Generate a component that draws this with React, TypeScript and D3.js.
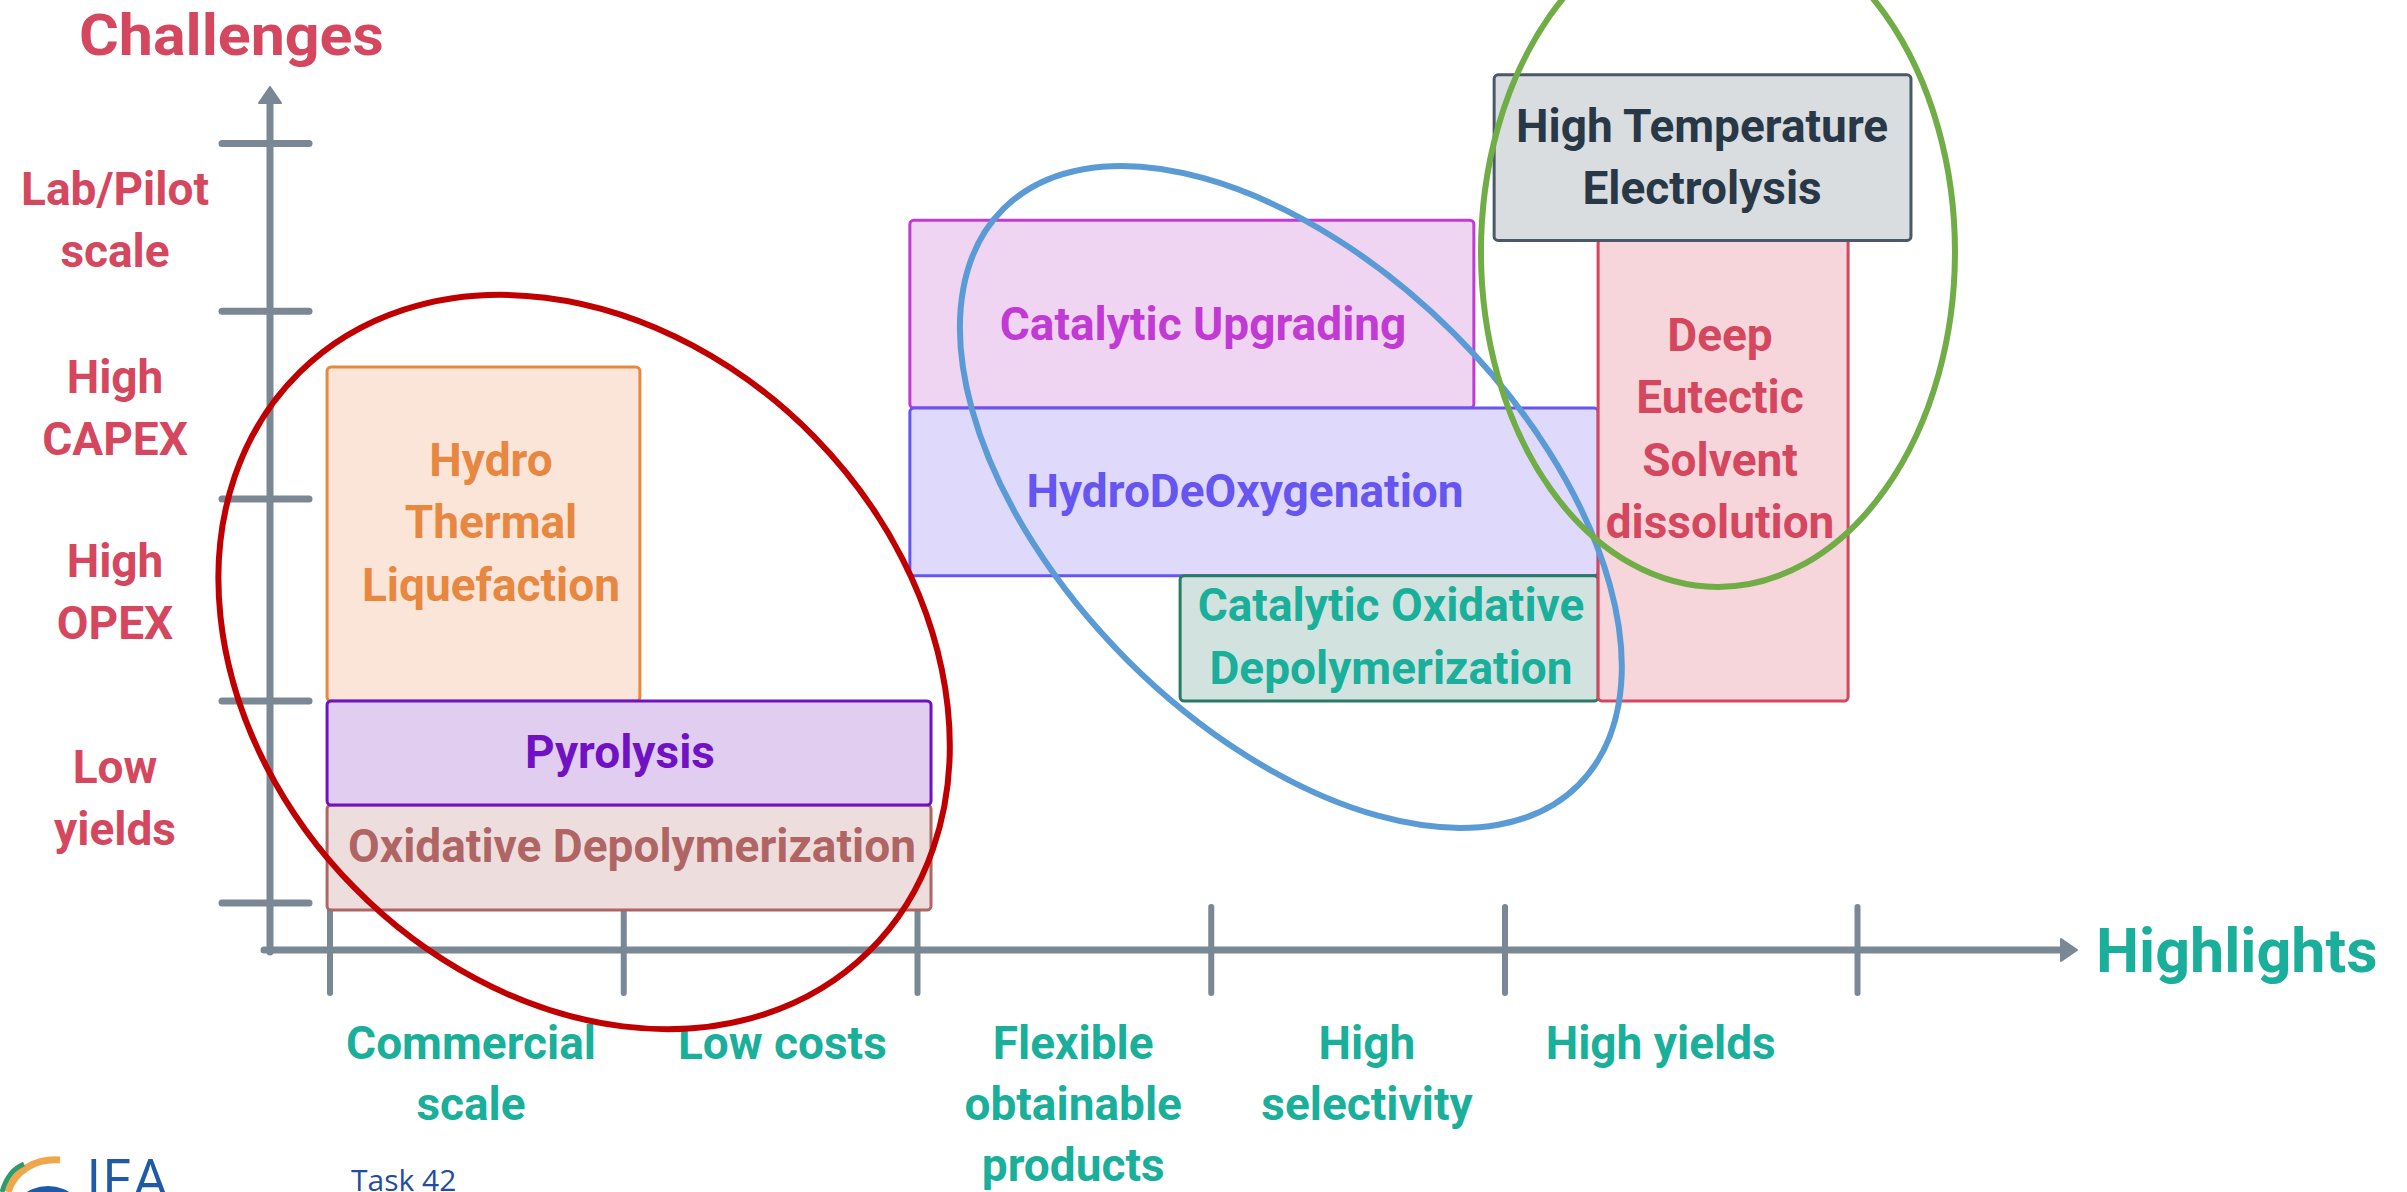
import React, { useEffect } from "react";
import * as d3 from "d3";

const W = 2407;
const H = 1192;

// ---- data ----
const highlightLabels = [["Commercial", "scale"], ["Low costs"], ["Flexible", "obtainable", "products"], ["High", "selectivity"], ["High yields"]];
const highlightPos = [0.48, 1.54, 2.53, 3.53, 4.53];
const xTickValues = [0, 1, 2, 3, 4, 5.2];

const challengeLabels = [["Lab/Pilot", "scale"], ["High", "CAPEX"], ["High", "OPEX"], ["Low", "yields"]];
const challengePos = [3.38, 2.45, 1.54, 0.52];
const yTickValues = [0, 1, 2, 2.93, 3.76];

const processLines = [
  ["Hydro", "Thermal", "Liquefaction"],
  ["Oxidative Depolymerization"],
  ["Pyrolysis"],
  ["Catalytic Upgrading"],
  ["HydroDeOxygenation"],
  ["Catalytic Oxidative", "Depolymerization"],
  ["Deep", "Eutectic", "Solvent", "dissolution"],
  ["High Temperature", "Electrolysis"],
];
const processX0 = [-0.01, -0.01, -0.01, 1.974, 1.974, 2.894, 4.317, 3.963];
const processX1 = [1.055, 2.046, 2.046, 3.894, 4.317, 4.317, 5.168, 5.382];
const processY0 = [1.0, -0.035, 0.485, 2.45, 1.62, 1.0, 1.0, 3.28];
const processY1 = [2.653, 0.485, 1.0, 3.38, 2.45, 1.62, 3.29, 4.1];
const processLabelX = [0.548, 1.028, 0.987, 2.972, 3.115, 3.612, 4.732, 4.671];
const processLabelY = [1.884, 0.282, 0.748, 2.866, 2.04, 1.319, 2.349, 3.693];

const groupCx = [0.865, 3.271, 4.725];
const groupCy = [1.193, 2.01, 3.223];

// ---- styles ----
const processFill = ["#fae5d8", "#eedddd", "#e0cdf0", "#f0d5f3", "#dfdafc", "#d2e3df", "#f6d6db", "#d9dde0"];
const processStroke = ["#e8873f", "#b06565", "#7012c4", "#c23ad4", "#6655f0", "#287a66", "#d5475e", "#4a5868"];
const processText = ["#e8873f", "#b06565", "#7012c4", "#c23ad4", "#6655f0", "#1aaf9a", "#d5475e", "#293847"];
const groupStroke = ["#c00000", "#5b9bd5", "#70ad47"];
const groupRx = [406, 407, 237];
const groupRy = [322, 231, 335];
const groupRot = [45.5, 45, 0];

const AXIS = "#7a8795";
const RED = "#d5475e";
const TEAL = "#1aaf9a";
const FONT = "Roboto, 'Noto Sans', 'DejaVu Sans', sans-serif";
const FS = 46;
const LH = 62.5;
const CAP = 32;
const SX = 1;

function Lines({ lines, cx, cy, color, fs = FS, lh = LH, cap = CAP }) {
  const first = cy - ((lines.length - 1) * lh) / 2 + cap / 2;
  return (
    <g>
      {lines.map((l, i) => (
        <text
          key={i}
          transform={`translate(${cx},${first + i * lh}) scale(${SX},1)`}
          textAnchor="middle"
          fontFamily={FONT}
          fontWeight={700}
          fontSize={fs}
          fill={color}
        >
          {l}
        </text>
      ))}
    </g>
  );
}

export default function App() {
  useEffect(() => {
    document.body.style.margin = "0";
    document.body.style.overflow = "hidden";
  }, []);

  const x = d3.scaleLinear().domain([0, 4]).range([330, 1505]);
  const y = d3.scaleLinear().domain([0, 1]).range([903, 701]);

  const xAxisY = 950;
  const yAxisX = 270;

  return (
    <svg width={W} height={H} style={{ display: "block", background: "#fff" }}>
      {/* titles */}
      <text transform="translate(79,55) scale(1.05,1)" fontFamily={FONT} fontWeight={700} fontSize={58} fill={RED}>
        Challenges
      </text>
      <text x={2096} y={972} fontFamily={FONT} fontWeight={700} fontSize={61} fill={TEAL}>
        Highlights
      </text>

      {/* y axis */}
      <line x1={yAxisX} y1={xAxisY + 2} x2={yAxisX} y2={100} stroke={AXIS} strokeWidth={7} strokeLinecap="round" />
      <path d={`M${yAxisX},87 L${yAxisX + 11},103 L${yAxisX - 11},103 Z`} fill={AXIS} stroke={AXIS} strokeWidth={2} strokeLinejoin="round" />
      {yTickValues.map((v, i) => (
        <line key={i} x1={222} x2={309} y1={y(v)} y2={y(v)} stroke={AXIS} strokeWidth={7} strokeLinecap="round" />
      ))}

      {/* x axis */}
      <line x1={264} y1={xAxisY} x2={2064} y2={xAxisY} stroke={AXIS} strokeWidth={7} strokeLinecap="round" />
      <path d={`M2077,${xAxisY} L2061,${xAxisY - 11} L2061,${xAxisY + 11} Z`} fill={AXIS} stroke={AXIS} strokeWidth={2} strokeLinejoin="round" />
      {xTickValues.map((v, i) => (
        <line key={i} x1={x(v)} x2={x(v)} y1={907} y2={993} stroke={AXIS} strokeWidth={6} strokeLinecap="round" />
      ))}

      {/* challenge labels */}
      {challengeLabels.map((lines, i) => (
        <Lines key={i} lines={lines} cx={115} cy={y(challengePos[i])} color={RED} lh={62} />
      ))}

      {/* highlight labels */}
      {highlightLabels.map((lines, i) => (
        <g key={i}>
          {lines.map((l, j) => (
            <text
              key={j}
              transform={`translate(${x(highlightPos[i])},${1059 + j * 61}) scale(${SX},1)`}
              textAnchor="middle"
              fontFamily={FONT}
              fontWeight={700}
              fontSize={FS}
              fill={TEAL}
            >
              {l}
            </text>
          ))}
        </g>
      ))}

      {/* process boxes */}
      {processLines.map((lines, i) => {
        const x0 = x(processX0[i]);
        const x1 = x(processX1[i]);
        const y0 = y(processY1[i]);
        const y1 = y(processY0[i]);
        return (
          <g key={i}>
            <rect x={x0} y={y0} width={x1 - x0} height={y1 - y0} rx={4} ry={4} fill={processFill[i]} stroke={processStroke[i]} strokeWidth={3} />
            <Lines lines={lines} cx={x(processLabelX[i])} cy={y(processLabelY[i])} color={processText[i]} />
          </g>
        );
      })}

      {/* group ellipses */}
      {groupCx.map((cxv, i) => {
        const cx = x(cxv);
        const cy = y(groupCy[i]);
        return (
          <ellipse
            key={i}
            cx={cx}
            cy={cy}
            rx={groupRx[i]}
            ry={groupRy[i]}
            transform={`rotate(${groupRot[i]} ${cx} ${cy})`}
            fill="none"
            stroke={groupStroke[i]}
            strokeWidth={6}
          />
        );
      })}

      {/* footer */}
      <g>
        <circle cx={48} cy={1226} r={40} fill="#1f5aa6" />
        <path d="M8,1192 C14,1172 34,1158 60,1160" fill="none" stroke="#f0a64a" strokeWidth={7} />
        <path d="M2,1192 C6,1178 14,1168 24,1164" fill="none" stroke="#2e9b6a" strokeWidth={5} />
        <text x={86} y={1200} fontFamily="'Open Sans', sans-serif" fontWeight={400} fontSize={56} fill="#1f5aa6">
          IEA
        </text>
        <text x={351} y={1191} fontFamily="'Open Sans', sans-serif" fontWeight={400} fontSize={30} fill="#1f4e9c">
          Task 42
        </text>
      </g>
    </svg>
  );
}
